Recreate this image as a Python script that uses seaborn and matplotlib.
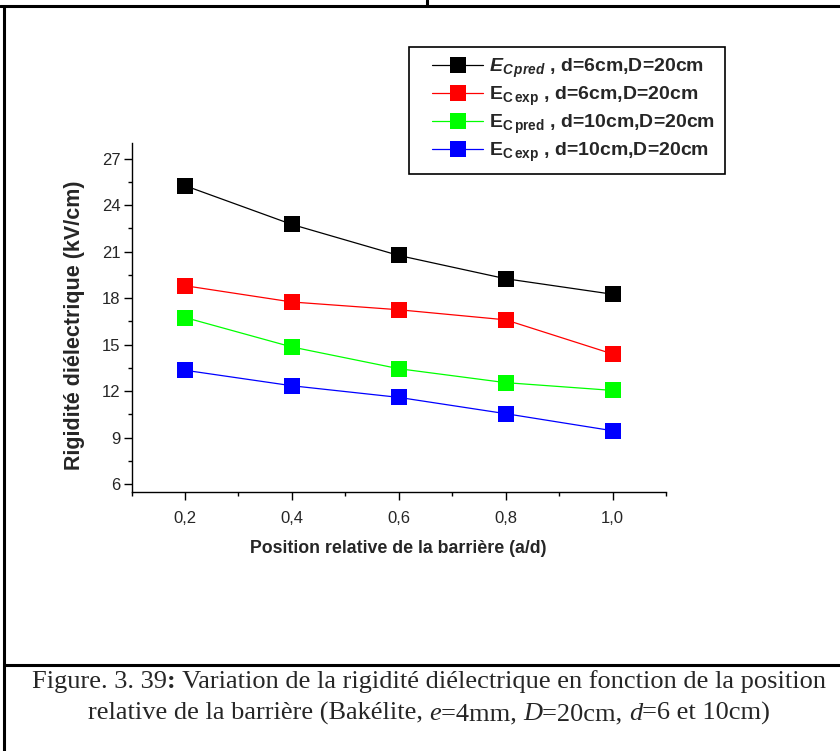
import numpy as np
import pandas as pd
import matplotlib
matplotlib.use('Agg')
import matplotlib.pyplot as plt
from matplotlib.lines import Line2D
from matplotlib.legend_handler import HandlerLine2D
from matplotlib.ticker import MultipleLocator, FuncFormatter
import seaborn as sns

# data
position = [0.2, 0.4, 0.6, 0.8, 1.0]
ec_pred_d6 = [25.25, 22.75, 20.75, 19.25, 18.25]
ec_exp_d6 = [18.8, 17.75, 17.25, 16.6, 14.4]
ec_pred_d10 = [16.75, 14.85, 13.45, 12.55, 12.05]
ec_exp_d10 = [13.35, 12.35, 11.6, 10.55, 9.45]

series_keys = ['pred_d6', 'exp_d6', 'pred_d10', 'exp_d10']
series_labels = [r'$E_{C\,pred}$ , d=6cm,D=20cm',
                 r'$\mathrm{E}_{\mathrm{C\,exp}}$ , d=6cm,D=20cm',
                 r'$\mathrm{E}_{\mathrm{C\,pred}}$ , d=10cm,D=20cm',
                 r'$\mathrm{E}_{\mathrm{C\,exp}}$ , d=10cm,D=20cm']
colors = ['#000000', '#ff0000', '#00ff00', '#0000ff']

sns.set_theme(style='ticks')
plt.rcParams['font.family'] = ['Liberation Sans', 'DejaVu Sans']
plt.rcParams['mathtext.fontset'] = 'custom'
plt.rcParams['mathtext.rm'] = 'Liberation Sans:bold'
plt.rcParams['mathtext.it'] = 'Liberation Sans:bold:italic'
plt.rcParams['mathtext.bf'] = 'Liberation Sans:bold'


class PaddedLine(HandlerLine2D):
    # leave some room left of the legend handle, like Origin does
    def create_artists(self, legend, orig_handle, xdescent, ydescent,
                       width, height, fontsize, trans):
        shift = 0.7 * fontsize
        return super().create_artists(legend, orig_handle, xdescent - shift,
                                      ydescent, width - shift, height,
                                      fontsize, trans)


def comma(v, pos):
    return ('%.1f' % v).replace('.', ',')


def draw_runs(fig, runs, y_px, size, xc=429):
    # put pieces of text with different styles side by side, centred
    renderer = fig.canvas.get_renderer()
    texts = []
    for s, style, weight in runs:
        t = fig.text(0, 1 - y_px / 751, s, family='Liberation Serif', size=size,
                     style=style, weight=weight, va='baseline', ha='left')
        texts.append(t)
    widths = [t.get_window_extent(renderer).width for t in texts]
    x = xc - sum(widths) / 2
    for t, w in zip(texts, widths):
        t.set_x(x / 840)
        x += w


def main():
    vals = ec_pred_d6 + ec_exp_d6 + ec_pred_d10 + ec_exp_d10
    df = pd.DataFrame({'pos': position * 4, 'val': vals,
                       'serie': np.repeat(series_keys, len(position))})

    fig = plt.figure(figsize=(8.4, 7.51), dpi=100)
    ax = fig.add_axes([131.5 / 840, 1 - 492 / 751, 534.5 / 840, 349 / 751])
    sns.lineplot(data=df, x='pos', y='val', hue='serie', palette=colors,
                 marker='s', markersize=11, markeredgewidth=0, linewidth=0.9,
                 legend=False, ax=ax)

    ax.set_xlim(0.1, 1.1)
    ax.set_ylim(5.5, 28)
    ax.xaxis.set_minor_locator(MultipleLocator(0.1))
    ax.yaxis.set_minor_locator(MultipleLocator(1.5))
    ax.set_xticks([0.2, 0.4, 0.6, 0.8, 1.0])
    ax.set_yticks([6, 9, 12, 15, 18, 21, 24, 27])
    ax.xaxis.set_major_formatter(FuncFormatter(comma))
    ax.tick_params(which='major', length=6, width=1, labelsize=12, color='black')
    ax.tick_params(axis='x', which='major', pad=8)
    ax.tick_params(axis='y', which='major', pad=2)
    ax.tick_params(which='minor', length=3, width=1, color='black')
    sns.despine(ax=ax)
    for sp in ['left', 'bottom']:
        ax.spines[sp].set_color('black')
        ax.spines[sp].set_linewidth(1)

    ax.set_xlabel('Position relative de la barrière (a/d)', fontsize=12.8,
                  weight='bold', labelpad=10)
    ax.set_ylabel('Rigidité diélectrique (kV/cm)', fontsize=15.5,
                  weight='bold', labelpad=12)
    ax.yaxis.label.set_y(0.478)

    handles = [Line2D([], [], color=c, marker='s', markersize=11,
                      markeredgewidth=0, linewidth=0.9) for c in colors]
    leg = ax.legend(handles, series_labels, loc='upper left',
                    bbox_to_anchor=(409 / 840, 1 - 47 / 751),
                    bbox_transform=fig.transFigure,
                    prop={'weight': 'bold', 'size': 14},
                    handler_map={Line2D: PaddedLine()},
                    frameon=True, fancybox=False, framealpha=1,
                    edgecolor='black', handlelength=3.3, handletextpad=0.3,
                    borderpad=0.5, labelspacing=0.25, borderaxespad=0)
    leg.get_frame().set_linewidth(1.2)

    # page border lines
    def hline(y, x0, x1):
        fig.add_artist(Line2D([x0 / 840, x1 / 840], [1 - y / 751, 1 - y / 751],
                              color='black', lw=2.2))

    def vline(x, y0, y1):
        fig.add_artist(Line2D([x / 840, x / 840], [1 - y0 / 751, 1 - y1 / 751],
                              color='black', lw=2.2))

    hline(6, 0, 840)
    vline(427, 0, 6)
    vline(4, 6, 751)
    hline(665, 4, 840)

    draw_runs(fig, [('Figure. 3. 39', 'normal', 'normal'),
                    (':', 'normal', 'bold'),
                    (' Variation de la rigidité diélectrique en fonction de la position',
                     'normal', 'normal')], 688, 19)
    draw_runs(fig, [('relative de la barrière (Bakélite, ', 'normal', 'normal'),
                    ('e', 'italic', 'normal'),
                    ('=4mm, ', 'normal', 'normal'),
                    ('D', 'italic', 'normal'),
                    ('=20cm, ', 'normal', 'normal'),
                    ('d', 'italic', 'normal'),
                    ('=6 et 10cm)', 'normal', 'normal')], 720, 19)

    fig.savefig('out.png', dpi=100)


if __name__ == '__main__':
    main()
